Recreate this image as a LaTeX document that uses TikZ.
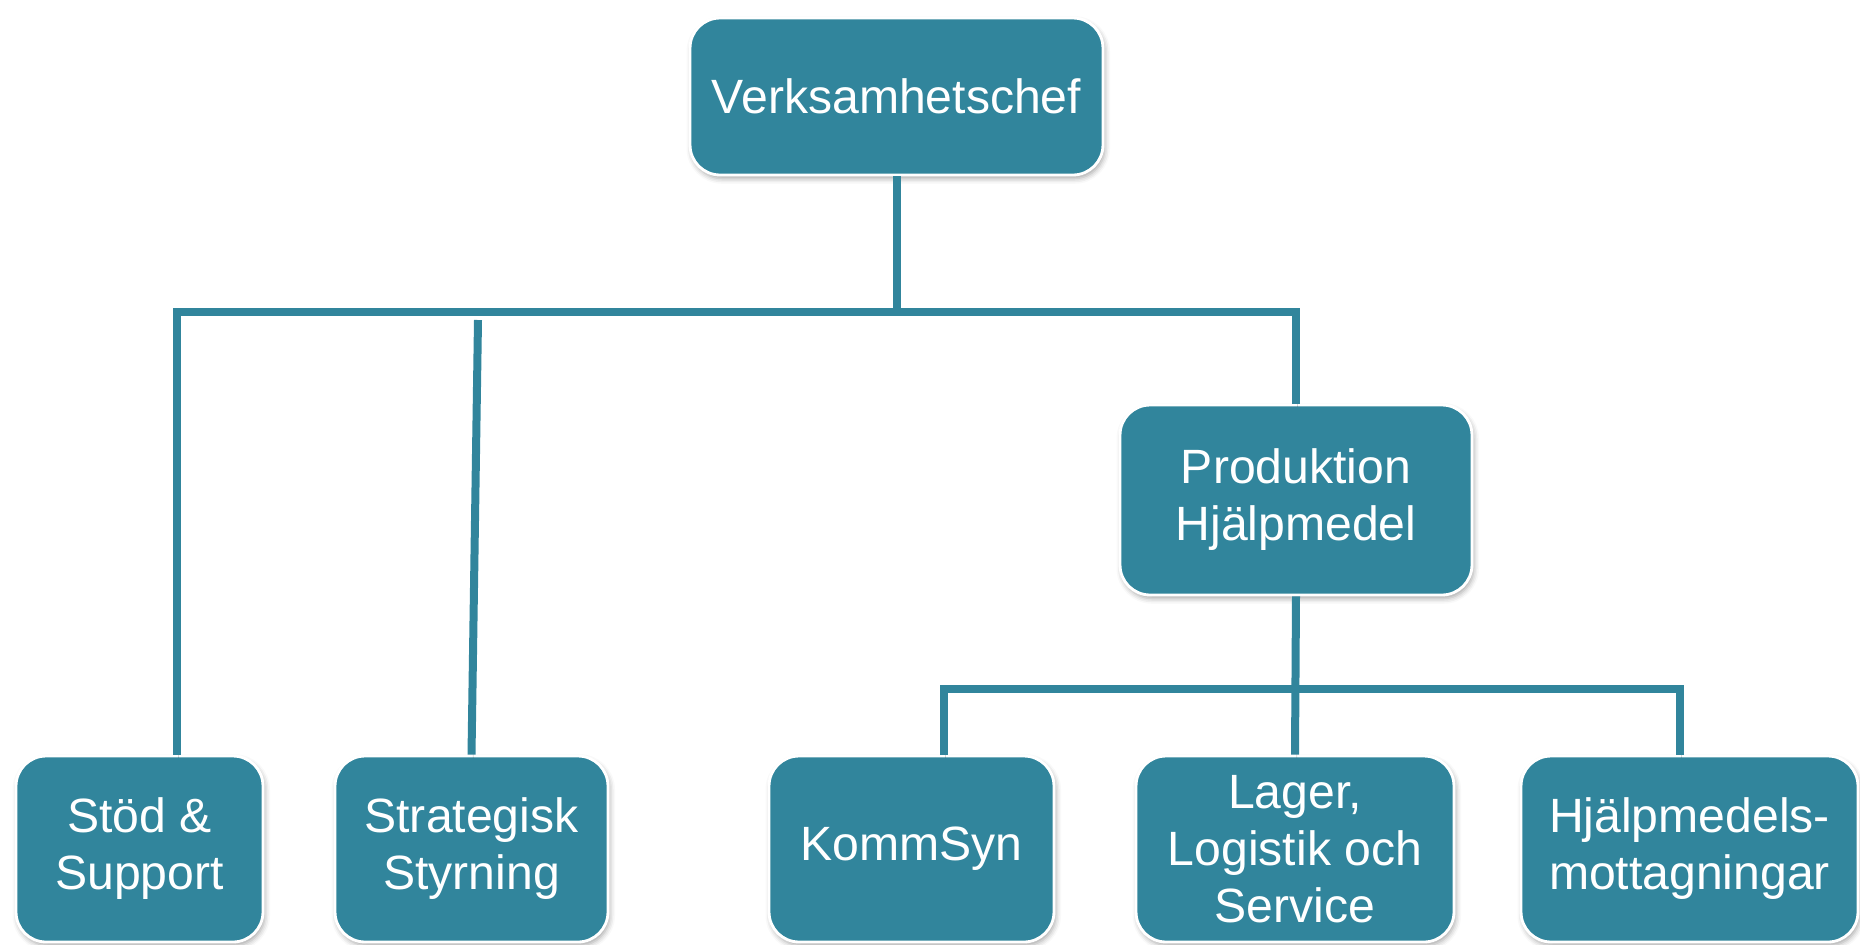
\documentclass[tikz,border=0pt]{standalone}
\usepackage{fontspec}
\setmainfont{Liberation Sans}
\usetikzlibrary{shadows.blur}
\definecolor{orgteal}{HTML}{31859C}
\begin{document}
\begin{tikzpicture}[x=0.02cm,y=-0.02cm,
    unit/.style={draw=white,line width=1.6pt,fill=orgteal,rounded corners=0.6cm,
        text=white,align=center,inner sep=0pt,font=\fontsize{27.4}{32.4}\selectfont,
        blur shadow={shadow xshift=1pt,shadow yshift=-2pt,shadow blur radius=3pt,shadow opacity=35}},
    link/.style={draw=orgteal,line width=0.16cm,
        preaction={draw=black,opacity=0.15,transform canvas={xshift=1pt,yshift=-2pt}}}]
    \useasboundingbox (0,0) rectangle (1860,944);
    \node[unit,minimum width=8.26cm,minimum height=3.14cm] (chef) at (896.5,96.5) {Verksamhetschef};
    \node[unit,minimum width=7.04cm,minimum height=3.8cm] (prod) at (1296,500) {Produktion\\Hjälpmedel};
    \node[unit,minimum width=4.94cm,minimum height=3.72cm] (stod) at (139.5,849) {Stöd \&\\Support};
    \node[unit,minimum width=5.46cm,minimum height=3.72cm] (strat) at (471.5,849) {Strategisk\\Styrning};
    \node[unit,minimum width=5.7cm,minimum height=3.72cm] (komm) at (911.5,849) {KommSyn};
    \node[unit,minimum width=6.36cm,minimum height=3.72cm] (lager) at (1295,849) {Lager,\\Logistik och\\Service};
    \node[unit,minimum width=6.74cm,minimum height=3.72cm] (hjalp) at (1689.5,849) {Hjälpmedels-\\mottagningar};
    \coordinate (busTop) at (177,312);
    \coordinate (stratTop) at (478,320);
    \coordinate (busLow) at (944,689);
    \coordinate (busLowEnd) at (1680,689);
    \draw[link] (chef.south) -- (chef.south |- busTop);
    \draw[link] (stod.north -| busTop) -- (busTop) -| (prod.north);
    \draw[link] (stratTop) -- (strat.north);
    \draw[link] (prod.south) -- (lager.north);
    \draw[link] (komm.north -| busLow) -- (busLow) -| (hjalp.north -| busLowEnd);
\end{tikzpicture}
\end{document}
